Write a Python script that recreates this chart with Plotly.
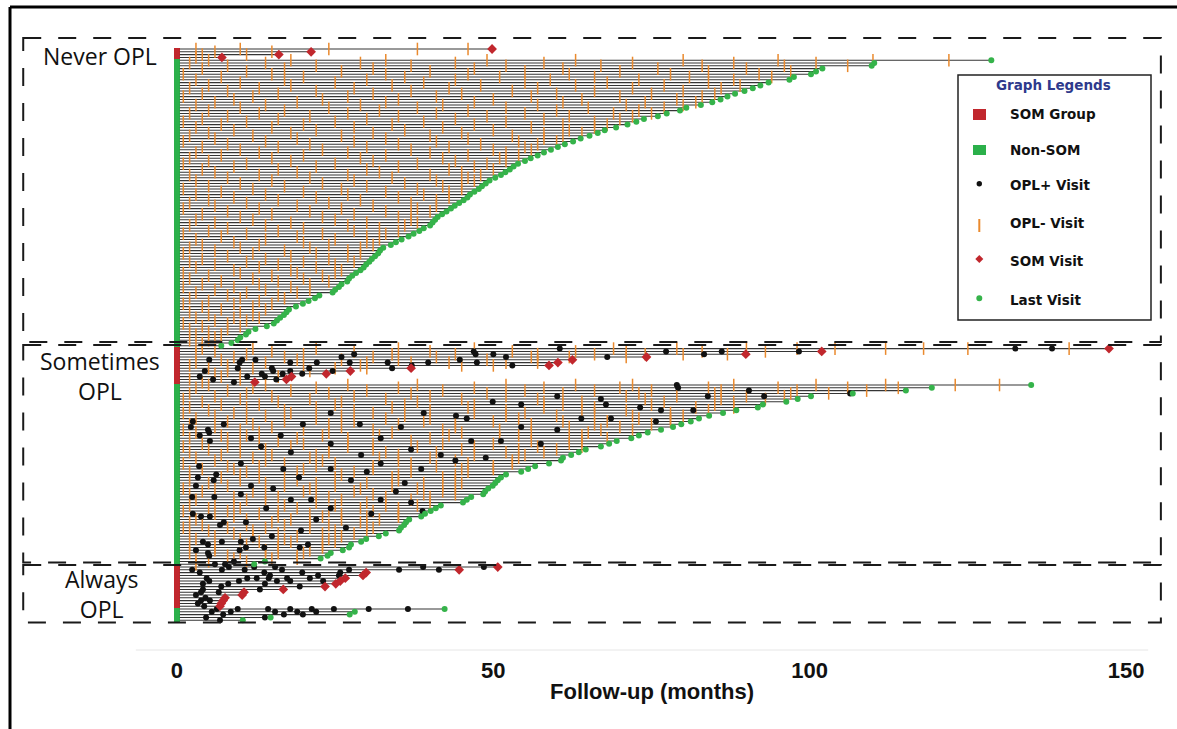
import plotly.graph_objects as go

# ---------------- data (months) ----------------
# Never OPL: first 4 rows are SOM group (end = SOM visit)
never_end = [49.8, 21.2, 16.1, 7.1,
             128.7, 110.2, 109.8, 102.0, 101.0, 100.2, 97.5, 96.8, 93.5, 92.2, 91.0, 89.7, 88.2, 87.0,
             85.9, 84.6, 82.8, 80.5, 79.5, 77.4, 76.0, 73.8, 72.6, 71.2, 69.4, 67.6, 66.5, 65.2, 63.8,
             62.6, 61.3, 60.2, 59.1, 58.0, 57.0, 55.9, 55.0, 53.9, 53.2, 52.6, 51.9, 51.2, 50.3, 49.4,
             48.8, 48.2, 47.7, 47.0, 46.3, 45.9, 45.3, 44.6, 43.9, 43.3, 42.6, 41.9, 41.2, 40.8, 40.4,
             40.0, 39.0, 38.3, 37.4, 36.6, 35.5, 34.6, 33.8, 32.6, 32.1, 31.8, 31.3, 30.8, 30.4, 29.9,
             29.5, 29.0, 28.3, 27.7, 27.2, 26.9, 26.0, 25.6, 25.0, 24.6, 22.5, 21.8, 20.8, 19.9, 18.8,
             17.7, 17.3, 16.9, 16.3, 15.8, 15.3, 14.2, 12.4, 11.3, 10.9, 10.0, 9.6, 8.6, 7.0]
never_som_rows = 4
never_neg = ["3 10 24 38 46", "6 15", "4 11", "3",
             "5 18 33 49 63 80 95 110 122", "2 14 29 44 58 72 88 101", "8 22 37 52 67 83 96 106",
             "4 17 31 47 61 76 90", "11 26 40 55 70 84 97", "1 15 33 46 62 78 92", "7 20 36 51 66 81 94",
             "3 17 30 44 59 73 88", "10 25 39 55 68 84", "5 18 34 48 63 77 89", "2 13 28 43 57 72 86",
             "8 22 37 53 66 80", "4 16 31 45 60 75 85", "1 12 27 41 56 70 83", "9 23 35 50 64 79",
             "6 19 33 47 61 74 82", "3 14 29 42 57 71 80", "10 24 38 52 65 77", "5 17 32 46 60 73",
             "2 13 27 41 55 69 75", "8 21 35 49 62 72", "4 16 30 44 58 70", "1 11 25 39 52 66",
             "7 20 34 47 61 68", "3 15 28 42 56 66", "9 22 36 50 62", "5 18 31 45 58 64",
             "2 12 26 40 53 61", "6 19 33 46 58", "1 14 28 41 54 60", "8 21 35 48 57", "4 16 30 43 55",
             "10 23 37 50 56", "3 13 27 40 52", "7 20 33 46 54", "2 15 29 42 51", "5 18 31 44 52",
             "1 11 25 38 49", "9 22 35 47", "4 16 30 43 50", "6 19 32 45", "2 13 27 40 48",
             "8 21 34 46", "3 15 28 41 47", "10 23 36 45", "5 17 30 42", "1 12 26 38 45",
             "7 20 33 43", "3 14 27 39", "9 22 35 43", "5 16 29 41", "2 11 24 37", "6 19 31 41",
             "1 13 26 38", "8 21 33 40", "4 15 28 37", "10 23 35", "3 12 25 37", "6 18 30 38",
             "2 14 27 36", "8 20 32", "5 16 28 35", "1 11 23 33", "7 19 30", "3 14 25 32", "9 20 30",
             "4 13 24 31", "2 10 21 29", "6 17 27", "1 12 22 29", "8 18 27", "4 14 24", "2 11 20 28",
             "6 16 25", "3 13 22", "9 18 26", "1 10 19 25", "5 15 23", "2 12 20", "7 16 24",
             "4 13 21", "1 9 18", "6 14 21", "3 11 19", "8 16", "2 10 17", "5 13", "1 9 15", "4 12",
             "7 14", "2 10", "5 12", "3 9 13", "6 11", "1 8", "4 10", "2 8", "5", "3 7", "6", "2 5",
             "4", "3"]
never_pos = []

# Sometimes OPL: first 13 rows are SOM group
some_end = [147.3, 101.9, 89.9, 74.2, 62.5, 60.2, 58.8, 37.0, 27.4, 23.6, 18.1, 17.3, 12.3,
            135.0, 119.3, 115.2, 106.8, 100.2, 98.1, 96.3, 92.6, 91.8, 88.4, 86.3, 84.1, 82.5, 81.2,
            79.7, 78.4, 76.5, 74.4, 73.0, 71.8, 69.5, 68.3, 67.0, 64.6, 63.5, 62.3, 61.0, 60.7, 58.8,
            56.6, 55.5, 54.4, 52.0, 51.2, 50.7, 50.3, 49.9, 49.2, 48.7, 48.4, 46.5, 45.8, 45.2, 41.7,
            40.9, 40.1, 39.2, 38.6, 36.7, 36.2, 35.9, 35.4, 35.1, 33.0, 31.9, 29.9, 29.1, 27.5, 27.2,
            26.2, 24.3, 23.8, 22.7, 13.9, 12.2]
some_som_rows = 13
some_neg = ["4 12 22 35 47 69 79 90 98 104 112 118 125 141", "6 15 28 40 53 63 71 83 93",
            "3 11 20 34 44 57 66 74 80 87", "9 17 31 41 56 62 71", "7 19 26 35 49 57",
            "3 14 30 37 43 52 57", "2 8 20 29 45 50", "5 12 25 30", "8 21", "6 10", "7 16", "2 10", "4",
            "5 14 27 38 52 63 72 88 101 112 123 130", "3 12 22 35 47 58 70 84 95 106 114",
            "8 18 30 42 55 66 75 86 98 109", "2 11 24 37 49 61 73 85 97 103", "6 15 28 40 52 71 79 90 96",
            "1 10 21 33 45 57 74 86 93", "4 16 26 38 58 64 77 88", "7 13 25 36 47 61 75 85",
            "2 11 22 34 46 58 66 82 88", "5 17 28 40 52 64 71 84", "1 9 18 31 47 55 66 78",
            "6 14 26 36 52 60 72 80", "3 11 22 33 40 54 73 78", "8 17 28 39 50 61 68 78",
            "2 12 24 35 44 56 66 75", "6 15 26 44 62 70", "1 10 20 31 42 51 67 72", "3 13 24 34 45 56 65",
            "7 11 23 32 43 54 64", "2 8 19 27 40 51 62 68", "10 16 27 37 56 64", "4 13 20 31 42 50 62",
            "1 8 18 27 38 47 57 64", "5 14 24 31 45 54 60", "2 10 24 33 41 52 58", "7 15 22 35 47 55",
            "3 12 21 32 40 54", "6 14 23 35 44 53", "1 17 25 37 46 53", "8 13 22 31 41 50",
            "4 9 20 31 45 50", "2 11 19 28 37 46", "10 17 26 35 44", "7 13 25 34 42", "2 10 19 35 44",
            "5 14 22 30 39 45", "8 17 25 34 42", "1 6 21 29 38 44", "4 12 20 28 42", "2 14 22 31 39 44",
            "9 16 24 33 40", "3 11 26 37", "6 14 22 30 40", "2 9 17 25 33 38", "5 10 19 29 35",
            "1 8 16 24 31", "6 13 21 26 35", "9 16 23 30 35", "3 11 18 26 32", "2 15 21 29",
            "4 11 17 24 30", "1 8 14 21 31", "5 12 25 30", "2 9 16 23 28", "6 12 19 26", "3 10 17 24",
            "13 18 25", "2 11 16 23", "6 16 23", "6 14 21", "2 10 16 20", "8 14 19", "3 9 15 19",
            "5 11", "3"]
some_pos = ["60.5 132.5 138.3", "46.9 77.3 86.1 98.3", "28 47.2 50 83.3", "26 52 68",
            "5.1 10.3 12.4 44.7", "9.9 17.9 22.1 27.3 33.3 39.7 47.4", "37.1 53", "9.6 15 20.9 34",
            "4.4 15.2 17.9 24.6", "13.4 16.7 19.8", "3.6 11.1 13.9", "5.7 15.7", "9",
            "79.0", "79.2", "90.4", "106.4", "60.1 83.9 92.8", "67.0", "49.9", "54.4 67.8", "73.2",
            "76.5 81.6", "24.3 39.0", "44.1", "45.8 63.9 68.6", "2.5 75.7", "7.4 19.9 28.9",
            "2.2 35.4 54.4", "4.9 60.1", "5.1", "3.6 16.4", "11.7 32.2", "5.2 46.5 51.2", "24.3 57.5",
            "13.3", "37.0", "18.0", "29.1 41.7", "48.8", "44.0", "10.1 32.2", "3.5", "16.8 24.3 38.6",
            "30.0", "6.2", "3.3 19.3", "5.8 27.5", "36.0", "3.0 11.7", "15.2", "34.6", "10.1",
            "2.4 5.9", "18.0 21.2 32.2", "37.0", "", "14.1 24.3", "38.8", "2.5 30.7", "3.8 5.2",
            "22.0", "7.4 10.9", "6.8", "26.7", "19.6", "", "15.0", "12.0", "4.1 7.1 10.1",
            "4.9 20.7", "10.9 13.8 19.4", "3.0 9.9", "4.9", "5.1", "", "9.0", "6.0 7.6"]

# Always OPL: first 15 rows are SOM group
always_end = [50.7, 44.6, 29.9, 29.4, 26.6, 25.8, 25.1, 23.4, 16.8, 10.6, 10.3, 7.6, 7.3, 7.0, 6.8,
              42.3, 28.1, 27.3, 14.8, 10.4]
always_som_rows = 15
always_neg = []
always_pos = ["8.2 12.2 15.5 38.9 48.5", "2.4 7.1 10.7 16.6 27.2 35.1 41.4", "3.6 13.8 19.8 25.8",
              "14.7 22.3 25.6", "4.7 11.1 12.6 14.5 17.4 21.0", "5.1 9.8 15.8 17.9 23.1",
              "4.1 8.1 13.9", "7.0 19.4", "4.1 13.1", "3.8 6.6", "3.0", "4.5", "3.8 5.2", "3.3", "4.3",
              "6.3 9.6 14.4 17.9 21.3 24.8 30.3 36.5", "5.5 8.5 15.5 19.0 22.0", "7.3 16.9 19.9",
              "4.6 13.9", "6.8"]

group_names = ["Never OPL", "Sometimes<br>OPL", "Always<br>OPL"]
x_ticks = [0, 50, 100, 150]
legend_items = ["SOM Group", "Non-SOM", "OPL+ Visit", "OPL- Visit", "SOM Visit", "Last Visit"]

# ---------------- styles ----------------
RED = "#c1272d"
GREEN = "#2bb04a"
ORANGE = "#ea8a2e"
W, H = 1177, 729
PLOT_B = 79
AX_FONT = "Liberation Sans, Arial, sans-serif"


def parse(s):
    return [float(v) for v in s.split()]


groups = [(never_end, never_som_rows, never_neg, never_pos),
          (some_end, some_som_rows, some_neg, some_pos),
          (always_end, always_som_rows, always_neg, always_pos)]

rows = []
ranges = []
idx = 0
for ends, nsom, negs, poss in groups:
    start = idx
    for i, e in enumerate(ends):
        rows.append(dict(y=idx, end=e, som=i < nsom,
                         neg=parse(negs[i]) if i < len(negs) else [],
                         pos=parse(poss[i]) if i < len(poss) else []))
        idx += 1
    ranges.append((start, idx - 1))

fig = go.Figure()

# swim lanes
lx, ly = [], []
for r in rows:
    lx += [0.45, r["end"], None]
    ly += [r["y"], r["y"], None]
fig.add_trace(go.Scatter(x=lx, y=ly, mode="lines", line=dict(color="#353535", width=1.05),
                         hoverinfo="skip", showlegend=False))

# group bar
fig.add_trace(go.Bar(orientation="h", y=[r["y"] for r in rows], x=[0.9] * len(rows), base=-0.45,
                     width=1.0, marker=dict(color=[RED if r["som"] else GREEN for r in rows], line_width=0),
                     hoverinfo="skip", showlegend=False))

# OPL- ticks
tx, ty = [], []
for r in rows:
    for v in r["neg"]:
        tx.append(v); ty.append(r["y"])
fig.add_trace(go.Scatter(x=tx, y=ty, mode="markers",
                         marker=dict(symbol="line-ns", size=9, line=dict(color=ORANGE, width=1.5)),
                         hoverinfo="skip", showlegend=False))

# OPL+ dots
px_, py_ = [], []
for r in rows:
    for v in r["pos"]:
        px_.append(v); py_.append(r["y"])
fig.add_trace(go.Scatter(x=px_, y=py_, mode="markers",
                         marker=dict(symbol="circle", size=6, color="#111111"),
                         hoverinfo="skip", showlegend=False))

# SOM visits
fig.add_trace(go.Scatter(x=[r["end"] for r in rows if r["som"]], y=[r["y"] for r in rows if r["som"]],
                         mode="markers", marker=dict(symbol="diamond", size=7.5, color=RED),
                         hoverinfo="skip", showlegend=False))
# Last visits
fig.add_trace(go.Scatter(x=[r["end"] for r in rows if not r["som"]], y=[r["y"] for r in rows if not r["som"]],
                         mode="markers", marker=dict(symbol="circle", size=6, color="#35b34a"),
                         hoverinfo="skip", showlegend=False))

shapes = []
annotations = []

# dashed group boxes
pads = [(3.9, -1.4), (1.3, -0.6), (0.7, 0.8)]
for (s, e), (pt, pb) in zip(ranges, pads):
    shapes.append(dict(type="rect", xref="x", yref="y", x0=-24.3, x1=155.5, y0=s - pt, y1=e + pb,
                       line=dict(color="#1a1a1a", width=2, dash="18px,17px"), layer="above"))

# group labels
label_offsets = [2.5, 9.8, 9.5]
label_x = [-12.2, -12.2, -11.9]
for (s, e), name, o, xx in zip(ranges, group_names, label_offsets, label_x):
    annotations.append(dict(x=xx, y=s + o, xref="x", yref="y", text=name, showarrow=False,
                            xanchor="center", yanchor="middle",
                            font=dict(family="Open Sans, Noto Sans", size=23, color="#111")))


def pxx(p):
    return p / W


def pxy(p):
    return (H - PLOT_B - p) / (H - PLOT_B)


# outer frame
shapes.append(dict(type="line", xref="paper", yref="paper", x0=pxx(10), x1=pxx(1180), y0=pxy(7), y1=pxy(7),
                   line=dict(color="black", width=3)))
shapes.append(dict(type="line", xref="paper", yref="paper", x0=pxx(10), x1=pxx(10), y0=pxy(7), y1=pxy(732),
                   line=dict(color="black", width=3)))
# faint axis line
shapes.append(dict(type="line", xref="x", yref="paper", x0=-6.5, x1=153.5, y0=0, y1=0,
                   line=dict(color="#e6e6e6", width=1)))

# legend
shapes.append(dict(type="rect", xref="paper", yref="paper", x0=pxx(958), x1=pxx(1151), y0=pxy(75), y1=pxy(320),
                   line=dict(color="#222", width=1.5), fillcolor="white", layer="above"))
annotations.append(dict(x=pxx(1053), y=pxy(85), xref="paper", yref="paper", text="<b>Graph Legends</b>",
                        showarrow=False, xanchor="center", yanchor="middle",
                        font=dict(family="DejaVu Sans", size=13.5, color="#2e3a8c")))
item_y = [114, 150, 185, 222.5, 261, 300]
for t, yy in zip(legend_items, item_y):
    annotations.append(dict(x=pxx(1008), y=pxy(yy), xref="paper", yref="paper", text="<b>%s</b>" % t,
                            xanchor="left", yanchor="middle", showarrow=False,
                            font=dict(family="DejaVu Sans", size=13.5, color="#111")))
shapes.append(dict(type="rect", xref="paper", yref="paper", x0=pxx(973), x1=pxx(986), y0=pxy(109), y1=pxy(120),
                   line_width=0, fillcolor=RED, layer="above"))
shapes.append(dict(type="rect", xref="paper", yref="paper", x0=pxx(973), x1=pxx(986), y0=pxy(145), y1=pxy(155),
                   line_width=0, fillcolor=GREEN, layer="above"))
shapes.append(dict(type="circle", xref="paper", yref="paper", x0=pxx(976.6), x1=pxx(982), y0=pxy(181), y1=pxy(186.4),
                   line_width=0, fillcolor="#111", layer="above"))
shapes.append(dict(type="line", xref="paper", yref="paper", x0=pxx(979.3), x1=pxx(979.3), y0=pxy(219), y1=pxy(232),
                   line=dict(color=ORANGE, width=2), layer="above"))
shapes.append(dict(type="path", xref="paper", yref="paper",
                   path="M %f %f L %f %f L %f %f L %f %f Z" % (pxx(979.3), pxy(255), pxx(983.3), pxy(259),
                                                             pxx(979.3), pxy(263), pxx(975.3), pxy(259)),
                   line_width=0, fillcolor=RED, layer="above"))
shapes.append(dict(type="circle", xref="paper", yref="paper", x0=pxx(976.3), x1=pxx(982.3), y0=pxy(295.3), y1=pxy(301.3),
                   line_width=0, fillcolor="#35b34a", layer="above"))

# axis title
annotations.append(dict(x=75, y=pxy(691), xref="x", yref="paper", text="<b>Follow-up (months)</b>",
                        showarrow=False, xanchor="center", yanchor="middle",
                        font=dict(family=AX_FONT, size=22, color="#111")))

fig.update_layout(
    width=W, height=H, autosize=False,
    margin=dict(l=0, r=0, t=0, b=PLOT_B, pad=0),
    paper_bgcolor="white", plot_bgcolor="white",
    showlegend=False, bargap=0,
    shapes=shapes, annotations=annotations,
    xaxis=dict(range=[-27.97, 158.05], tickvals=x_ticks, ticktext=[str(v) for v in x_ticks],
               showgrid=False, zeroline=False, showline=False, ticks="outside", ticklen=1,
               tickcolor="rgba(0,0,0,0)",
               tickfont=dict(family=AX_FONT, size=22, color="#111", weight="bold")),
    yaxis=dict(range=[214.64, -17.5], visible=False, showgrid=False, zeroline=False),
)

fig.write_html("out.html")
